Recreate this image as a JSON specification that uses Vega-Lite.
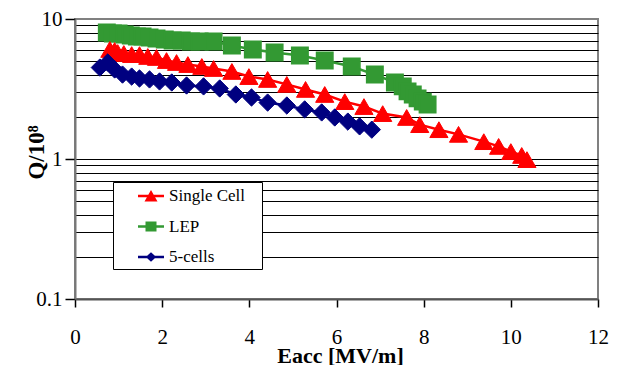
{
  "$schema": "https://vega.github.io/schema/vega-lite/v6.json",
  "width": 523,
  "height": 280,
  "autosize": "none",
  "padding": {"left": 75, "top": 19, "right": 28, "bottom": 66},
  "background": "white",
  "config": {
    "view": {"stroke": "#808080", "strokeWidth": 2},
    "axis": {"labelFont": "Liberation Serif", "titleFont": "Liberation Serif", "labelColor": "black", "titleColor": "black"}
  },
  "data": {"values": [
    {"series": "LEP", "E": 0.73, "Q": 8.01},
    {"series": "LEP", "E": 0.87, "Q": 7.88},
    {"series": "LEP", "E": 1.00, "Q": 7.88},
    {"series": "LEP", "E": 1.14, "Q": 7.75},
    {"series": "LEP", "E": 1.28, "Q": 7.62},
    {"series": "LEP", "E": 1.42, "Q": 7.50},
    {"series": "LEP", "E": 1.55, "Q": 7.50},
    {"series": "LEP", "E": 1.71, "Q": 7.38},
    {"series": "LEP", "E": 1.87, "Q": 7.26},
    {"series": "LEP", "E": 2.06, "Q": 7.14},
    {"series": "LEP", "E": 2.24, "Q": 7.02},
    {"series": "LEP", "E": 2.45, "Q": 7.02},
    {"series": "LEP", "E": 2.66, "Q": 6.91},
    {"series": "LEP", "E": 2.86, "Q": 6.91},
    {"series": "LEP", "E": 3.18, "Q": 6.91},
    {"series": "LEP", "E": 3.60, "Q": 6.47},
    {"series": "LEP", "E": 4.08, "Q": 6.06},
    {"series": "LEP", "E": 4.58, "Q": 5.76},
    {"series": "LEP", "E": 5.16, "Q": 5.49},
    {"series": "LEP", "E": 5.73, "Q": 5.05},
    {"series": "LEP", "E": 6.35, "Q": 4.58},
    {"series": "LEP", "E": 6.88, "Q": 4.01},
    {"series": "LEP", "E": 7.34, "Q": 3.52},
    {"series": "LEP", "E": 7.52, "Q": 3.30},
    {"series": "LEP", "E": 7.63, "Q": 3.04},
    {"series": "LEP", "E": 7.75, "Q": 2.89},
    {"series": "LEP", "E": 7.86, "Q": 2.71},
    {"series": "LEP", "E": 7.98, "Q": 2.57},
    {"series": "LEP", "E": 8.09, "Q": 2.45},
    {"series": "Single Cell", "E": 0.80, "Q": 6.06},
    {"series": "Single Cell", "E": 0.91, "Q": 5.96},
    {"series": "Single Cell", "E": 0.98, "Q": 5.76},
    {"series": "Single Cell", "E": 1.12, "Q": 5.67},
    {"series": "Single Cell", "E": 1.30, "Q": 5.57},
    {"series": "Single Cell", "E": 1.48, "Q": 5.57},
    {"series": "Single Cell", "E": 1.67, "Q": 5.40},
    {"series": "Single Cell", "E": 1.87, "Q": 5.31},
    {"series": "Single Cell", "E": 2.10, "Q": 5.05},
    {"series": "Single Cell", "E": 2.33, "Q": 4.89},
    {"series": "Single Cell", "E": 2.59, "Q": 4.73},
    {"series": "Single Cell", "E": 2.91, "Q": 4.58},
    {"series": "Single Cell", "E": 3.18, "Q": 4.43},
    {"series": "Single Cell", "E": 3.60, "Q": 4.22},
    {"series": "Single Cell", "E": 3.99, "Q": 3.88},
    {"series": "Single Cell", "E": 4.42, "Q": 3.70},
    {"series": "Single Cell", "E": 4.86, "Q": 3.41},
    {"series": "Single Cell", "E": 5.29, "Q": 3.14},
    {"series": "Single Cell", "E": 5.73, "Q": 2.89},
    {"series": "Single Cell", "E": 6.19, "Q": 2.57},
    {"series": "Single Cell", "E": 6.63, "Q": 2.37},
    {"series": "Single Cell", "E": 7.06, "Q": 2.11},
    {"series": "Single Cell", "E": 7.61, "Q": 1.98},
    {"series": "Single Cell", "E": 7.91, "Q": 1.76},
    {"series": "Single Cell", "E": 8.35, "Q": 1.62},
    {"series": "Single Cell", "E": 8.80, "Q": 1.50},
    {"series": "Single Cell", "E": 9.38, "Q": 1.33},
    {"series": "Single Cell", "E": 9.72, "Q": 1.23},
    {"series": "Single Cell", "E": 10.00, "Q": 1.13},
    {"series": "Single Cell", "E": 10.25, "Q": 1.06},
    {"series": "Single Cell", "E": 10.37, "Q": 0.99},
    {"series": "5-cells", "E": 0.57, "Q": 4.50},
    {"series": "5-cells", "E": 0.75, "Q": 4.89},
    {"series": "5-cells", "E": 0.91, "Q": 4.36},
    {"series": "5-cells", "E": 1.09, "Q": 4.01},
    {"series": "5-cells", "E": 1.30, "Q": 3.88},
    {"series": "5-cells", "E": 1.48, "Q": 3.76},
    {"series": "5-cells", "E": 1.71, "Q": 3.70},
    {"series": "5-cells", "E": 1.94, "Q": 3.58},
    {"series": "5-cells", "E": 2.22, "Q": 3.52},
    {"series": "5-cells", "E": 2.56, "Q": 3.35},
    {"series": "5-cells", "E": 2.95, "Q": 3.30},
    {"series": "5-cells", "E": 3.32, "Q": 3.19},
    {"series": "5-cells", "E": 3.69, "Q": 2.89},
    {"series": "5-cells", "E": 4.05, "Q": 2.75},
    {"series": "5-cells", "E": 4.42, "Q": 2.53},
    {"series": "5-cells", "E": 4.86, "Q": 2.41},
    {"series": "5-cells", "E": 5.27, "Q": 2.26},
    {"series": "5-cells", "E": 5.66, "Q": 2.15},
    {"series": "5-cells", "E": 5.96, "Q": 1.98},
    {"series": "5-cells", "E": 6.26, "Q": 1.85},
    {"series": "5-cells", "E": 6.53, "Q": 1.71},
    {"series": "5-cells", "E": 6.81, "Q": 1.62}
  ]},
  "encoding": {
    "x": {"field": "E", "type": "quantitative",
      "scale": {"domain": [0, 12], "nice": false, "zero": false},
      "axis": {"values": [0, 2, 4, 6, 8, 10, 12], "grid": false, "title": "Eacc [MV/m]",
        "tickSize": 8, "tickColor": "black", "tickWidth": 1.5,
        "domainColor": "#555555", "domainWidth": 2,
        "labelFont": "Liberation Serif", "labelFontSize": 21, "labelBaseline": "alphabetic", "labelPadding": 36, "labelFlush": false, "labelBound": false, "labelOverlap": false,
        "titleFont": "Liberation Serif", "titleFontSize": 22, "titleFontWeight": "bold", "titleBaseline": "alphabetic", "titleY": 63, "titleX": 265}},
    "y": {"field": "Q", "type": "quantitative",
      "scale": {"type": "log", "domain": [0.1, 10], "nice": false},
      "axis": {"values": [0.1, 0.2, 0.3, 0.4, 0.5, 0.6, 0.7, 0.8, 0.9, 1, 2, 3, 4, 5, 6, 7, 8, 9, 10],
        "format": "~g",
        "labelExpr": "(datum.value == 0.1 || datum.value == 1 || datum.value == 10) ? datum.label : ''",
        "labelOverlap": false, "labelBound": false, "labelFlush": false,
        "grid": true, "gridColor": "black", "gridWidth": 1,
        "gridOpacity": {"condition": {"test": "datum.value == 0.1 || datum.value == 10", "value": 0}, "value": 1},
        "tickOpacity": {"condition": {"test": "datum.value == 0.1 || datum.value == 1 || datum.value == 10", "value": 1}, "value": 0},
        "tickSize": 10, "tickColor": "black", "tickWidth": 1.5,
        "domainColor": "#777777", "domainWidth": 2,
        "labelFont": "Liberation Serif", "labelFontSize": 21, "labelPadding": 3,
        "title": "Q/10⁸", "titleFont": "Liberation Serif", "titleFontSize": 23, "titleFontWeight": "bold", "titleAngle": -90,
        "titleBaseline": "alphabetic", "titleAlign": "center", "titleX": -32, "titleY": 133}},
    "color": {"field": "series", "type": "nominal",
      "scale": {"domain": ["Single Cell", "LEP", "5-cells"], "range": ["#FF0000", "#339933", "#000080"]},
      "legend": {"orient": "none", "legendX": 38, "legendY": 163, "title": null,
        "fillColor": "white", "strokeColor": "black",
        "padding": 4, "rowPadding": 12.5, "symbolSize": 400, "symbolOffset": 24, "labelOffset": 8,
        "labelFont": "Liberation Serif", "labelFontSize": 17, "labelColor": "black",
        "encode": {
          "labels": {"update": {
            "font": {"value": "Liberation Serif"},
            "fontSize": {"value": 17},
            "fill": {"value": "black"}
          }},
          "symbols": {"update": {
          "shape": {"signal": "datum.value === 'Single Cell' ? 'M-1.3,-0.13L1.3,-0.13L1.3,0.13L-1.3,0.13Z M-0.65,0.55L0,-0.6L0.65,0.55Z M10.7,0L10.7,0Z' : datum.value === 'LEP' ? 'M-1.3,-0.13L1.3,-0.13L1.3,0.13L-1.3,0.13Z M-0.55,-0.5L0.55,-0.5L0.55,0.5L-0.55,0.5Z M10.7,0L10.7,0Z' : 'M-1.3,-0.13L1.3,-0.13L1.3,0.13L-1.3,0.13Z M0,-0.48L0.52,0L0,0.48L-0.52,0Z M10.7,0L10.7,0Z'"},
          "fill": {"scale": "color", "field": "value"},
          "stroke": {"value": "transparent"},
          "strokeWidth": {"value": 0},
          "opacity": {"value": 1},
          "fillOpacity": {"value": 1}
        }}}}}
  },
  "layer": [
    {"mark": {"type": "line", "strokeWidth": 2.5}},
    {"transform": [{"filter": "datum.series == 'LEP'"}],
     "mark": {"type": "point", "shape": "square", "filled": true, "opacity": 1, "size": 270, "stroke": "#339933", "strokeWidth": 1.5}},
    {"transform": [{"filter": "datum.series == 'Single Cell'"}],
     "mark": {"type": "point", "shape": "triangle-up", "filled": true, "opacity": 1, "size": 330, "stroke": "#FF0000", "strokeWidth": 1}},
    {"transform": [{"filter": "datum.series == '5-cells'"}],
     "mark": {"type": "point", "shape": "diamond", "filled": true, "opacity": 1, "size": 300, "stroke": "#000080", "strokeWidth": 1}}
  ]
}
